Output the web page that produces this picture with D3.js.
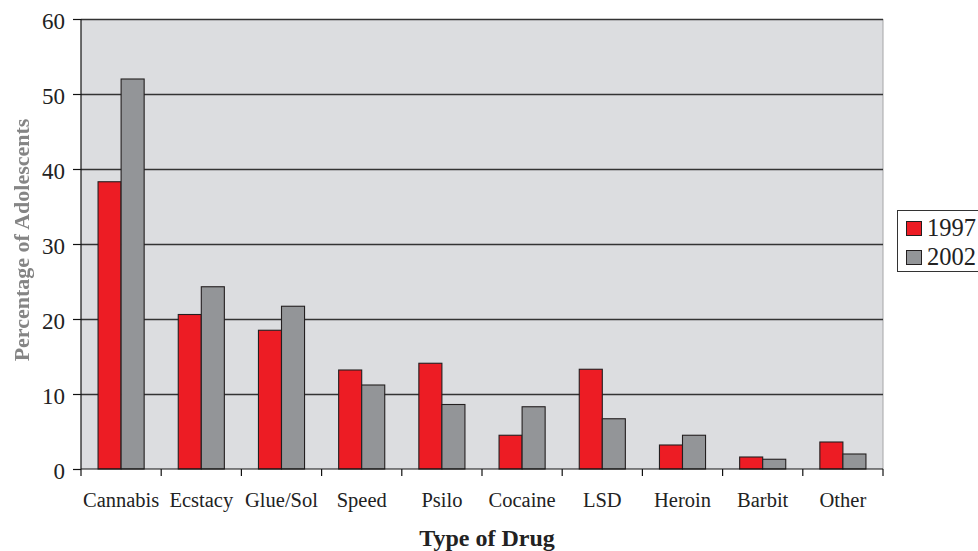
<!DOCTYPE html>
<html><head><meta charset="utf-8">
<script src="https://cdn.jsdelivr.net/npm/d3@7"></script>
<style>body{margin:0;background:#fff}svg{display:block}</style>
</head><body>
<svg id="c" width="978" height="551"></svg>
<script>
const categories = ["Cannabis","Ecstacy","Glue/Sol","Speed","Psilo","Cocaine","LSD","Heroin","Barbit","Other"];
const seriesNames = ["1997","2002"];
const values1997 = [38.3,20.6,18.5,13.2,14.1,4.5,13.3,3.2,1.6,3.6];
const values2002 = [52.0,24.3,21.7,11.2,8.6,8.3,6.7,4.5,1.3,2.0];
const yTicks = [0,10,20,30,40,50,60];
const xTitle = "Type of Drug";
const yTitle = "Percentage of Adolescents";

const colors = {"1997":"#ed1c24","2002":"#939598"};
const seriesValues = {"1997":values1997,"2002":values2002};
const pL=81,pR=883,pT=19,pB=469;
const serif = "'Liberation Serif','Times New Roman',serif";

const svg = d3.select("#c");
const defs = svg.append("defs");
defs.append("filter").attr("id","soft").append("feGaussianBlur").attr("stdDeviation",0.7);

const x0 = d3.scaleBand().domain(categories).range([pL,pR]).paddingInner(0).paddingOuter(0);
const x1 = d3.scaleBand().domain(seriesNames).range([0,x0.bandwidth()]).paddingInner(0).paddingOuter(0.74);
const y = d3.scaleLinear().domain([0,60]).range([pB,pT]);

// plot background
svg.append("rect").attr("x",pL).attr("y",pT).attr("width",pR-pL).attr("height",pB-pT).attr("fill","#dcdde0");
svg.append("line").attr("x1",pR).attr("x2",pR).attr("y1",pT).attr("y2",pB).attr("stroke","#a6a6a8").attr("stroke-width",1);

// gridlines
svg.append("g").selectAll("line").data(yTicks.filter(d=>d>0)).join("line")
  .attr("x1",pL).attr("x2",pR).attr("y1",d=>Math.round(y(d))+0.5).attr("y2",d=>Math.round(y(d))+0.5)
  .attr("stroke","#333").attr("stroke-width",1.3);

// bars
const rows = categories.map((c,i)=>({c, vals: seriesNames.map(s=>({s, v: seriesValues[s][i]}))}));
svg.append("g").selectAll("g").data(rows).join("g")
  .attr("transform",d=>`translate(${x0(d.c)},0)`)
  .selectAll("rect").data(d=>d.vals).join("rect")
  .attr("x",d=>x1(d.s)).attr("width",x1.bandwidth())
  .attr("y",d=>y(d.v)).attr("height",d=>y(0)-y(d.v))
  .attr("fill",d=>colors[d.s]).attr("stroke","#231f20").attr("stroke-width",1.1);

// y axis
const yAxis = d3.axisLeft(y).tickValues(yTicks).tickSize(8).tickPadding(8).tickFormat(d3.format("d"));
const ga = svg.append("g").attr("transform",`translate(${pL},0)`).call(yAxis);
ga.select(".domain").attr("stroke","#111").attr("stroke-width",1.2).attr("d",`M0,${pT}V${pB}`);
ga.selectAll(".tick line").attr("stroke","#111").attr("stroke-width",1.2);
ga.selectAll(".tick text").attr("font-family",serif).attr("font-size",23).attr("fill","#222").attr("dy","0.42em");

// x axis
const xAxis = d3.axisBottom(x0).tickSize(0).tickPadding(31);
const gx = svg.append("g").attr("transform",`translate(0,${pB})`).call(xAxis);
gx.select(".domain").attr("stroke","#111").attr("stroke-width",1.2).attr("d",`M${pL},0H${pR}`);
gx.selectAll(".tick text").attr("font-family",serif).attr("font-size",20.5).attr("fill","#222").attr("dy","0.32em");
// boundary ticks
const bounds = categories.map(c=>x0(c)).concat([x0(categories[categories.length-1])+x0.bandwidth()]);
gx.append("g").selectAll("line").data(bounds).join("line")
  .attr("x1",d=>d).attr("x2",d=>d).attr("y1",0).attr("y2",7).attr("stroke","#111").attr("stroke-width",1.2);

// titles
svg.append("text").attr("x",487).attr("y",546).attr("text-anchor","middle")
  .attr("font-family",serif).attr("font-weight","bold").attr("font-size",24).attr("fill","#222").text(xTitle);
svg.append("text").attr("transform","translate(29,240) rotate(-90)").attr("text-anchor","middle")
  .attr("font-family",serif).attr("font-weight","bold").attr("font-size",22).attr("fill","#858585")
  .attr("filter","url(#soft)").text(yTitle);

// legend
const lg = svg.append("g");
lg.append("rect").attr("x",897.5).attr("y",210.5).attr("width",100).attr("height",61).attr("fill","#fff").attr("stroke","#333").attr("stroke-width",1);
const li = lg.selectAll("g").data(seriesNames).join("g").attr("transform",(d,i)=>`translate(0,${i*29})`);
li.append("rect").attr("x",906.5).attr("y",221.5).attr("width",15).attr("height",14).attr("fill",d=>colors[d]).attr("stroke","#231f20").attr("stroke-width",1);
li.append("text").attr("x",927).attr("y",236).attr("font-family",serif).attr("font-size",24.5).attr("fill","#222").text(d=>d);
</script>
</body></html>
